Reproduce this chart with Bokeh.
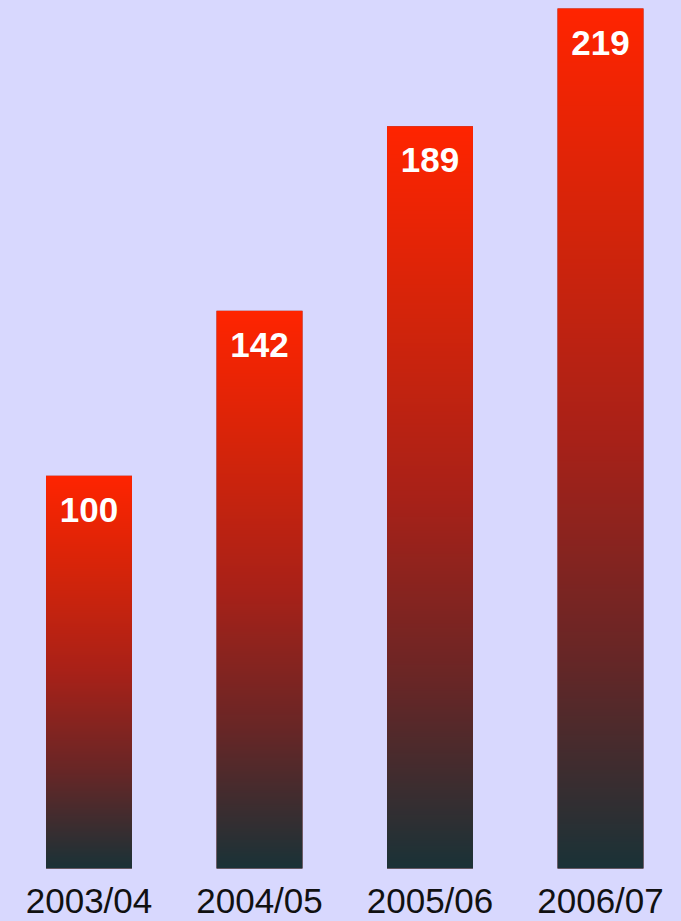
import numpy as np
from bokeh.plotting import figure
from bokeh.models import Range1d, ColumnDataSource
from bokeh.embed import file_html
from bokeh.resources import INLINE
from bokeh.core.properties import value

categories = ["2003/04", "2004/05", "2005/06", "2006/07"]
values = [100, 142, 189, 219]

BG = "#d8d8fe"
xs = list(range(len(categories)))
BAR_W = 0.504

# vertical gradient stops (fraction from top, rgb)
stops_t = [0.0, 0.25, 0.5, 0.75, 1.0]
stops_rgb = [(255, 36, 0), (212, 36, 10), (168, 33, 24), (104, 38, 38), (26, 50, 55)]

N = 1024
t = np.linspace(1.0, 0.0, N)  # row 0 = bottom
img = np.empty((N, 1), dtype=np.uint32)
view = img.view(dtype=np.uint8).reshape((N, 1, 4))
for c in range(3):
    view[:, 0, c] = np.interp(t, stops_t, [s[c] for s in stops_rgb]).round().astype(np.uint8)
view[:, 0, 3] = 255

vmax = max(values)
# plot area spans the whole canvas: top 8px margin above the max, 53px below zero
px_per_unit = 860.0 / vmax
y_start = -53.0 / px_per_unit
y_end = vmax + 8.0 / px_per_unit

p = figure(width=681, height=921, output_backend="svg", toolbar_location=None,
           x_range=Range1d(-0.5191, 3.4751), y_range=Range1d(y_start, y_end),
           min_border_left=0, min_border_right=0, min_border_top=0, min_border_bottom=0,
           background_fill_color=BG, border_fill_color=BG, outline_line_color=None)

src = ColumnDataSource(dict(x=xs, top=values, label=[str(v) for v in values],
                            cat=categories, zero=[0] * len(values)))
p.vbar(x="x", top="top", width=BAR_W, bottom=0, source=src,
       fill_color="#8a2a22", line_color=None)
p.image_rgba(image=[img for _ in values], x=[x - BAR_W / 2 for x in xs], y=[0] * len(values),
             dw=[BAR_W] * len(values), dh=values)

# value labels inside bars
p.text(x="x", y="top", text="label", source=src, text_align="center",
       text_baseline="alphabetic", y_offset=34, text_font=value("Liberation Sans"),
       text_font_style="bold", text_font_size="35px", text_color="white")

# category labels below bars
p.text(x="x", y="zero", text="cat", source=src, text_align="center",
       text_baseline="alphabetic", y_offset=32, text_font=value("Liberation Sans"),
       text_font_size="35px", text_color="#111111")

p.xgrid.grid_line_color = None
p.ygrid.grid_line_color = None
p.xaxis.visible = False
p.yaxis.visible = False

html = file_html(p, INLINE)
html = html.replace("</head>", "<style>html,body{background:%s;}</style></head>" % BG, 1)
open("out.html", "w").write(html)
